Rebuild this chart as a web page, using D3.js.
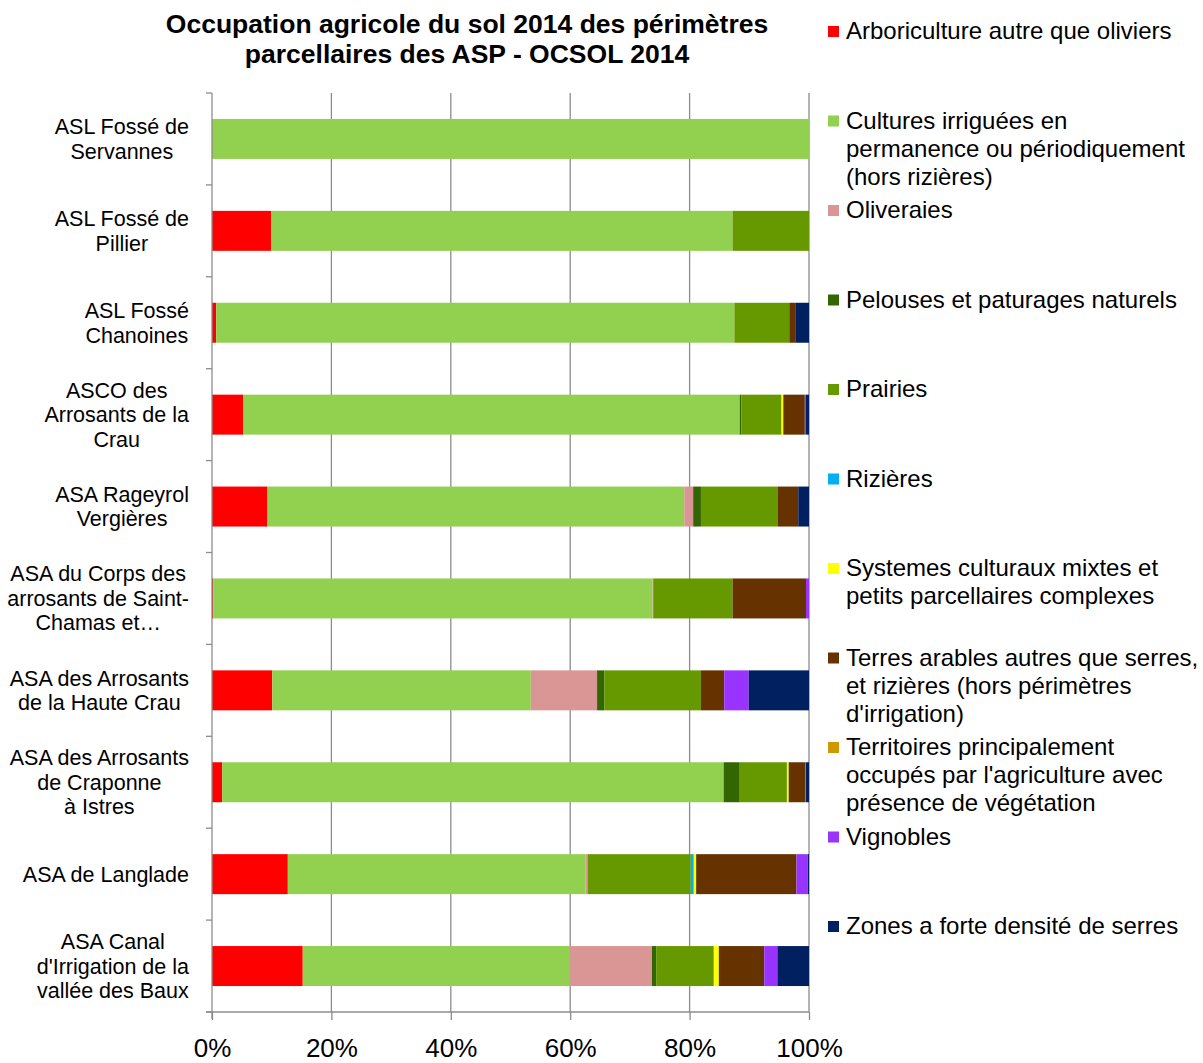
<!DOCTYPE html>
<html><head><meta charset="utf-8">
<script src="https://cdn.jsdelivr.net/npm/d3@7"></script>
<style>body{margin:0;background:#fff}svg{display:block}text{font-family:"Liberation Sans",Arial,sans-serif;fill:#000}</style>
</head><body><svg id="c" width="1203" height="1063"></svg>
<script>
const categories = [
  ["ASL Fossé de","Servannes"],
  ["ASL Fossé de","Pillier"],
  ["ASL Fossé","Chanoines"],
  ["ASCO des","Arrosants de la","Crau"],
  ["ASA Rageyrol","Vergières"],
  ["ASA du Corps des","arrosants de Saint-","Chamas et…"],
  ["ASA des Arrosants","de la Haute Crau"],
  ["ASA des Arrosants","de Craponne","à Istres"],
  ["ASA de Langlade"],
  ["ASA Canal","d'Irrigation de la","vallée des Baux"]
];
const seriesNames = [
  ["Arboriculture autre que oliviers"],
  ["Cultures irriguées en","permanence ou périodiquement","(hors rizières)"],
  ["Oliveraies"],
  ["Pelouses et paturages naturels"],
  ["Prairies"],
  ["Rizières"],
  ["Systemes culturaux mixtes et","petits parcellaires complexes"],
  ["Terres arables autres que serres,","et rizières (hors périmètres","d'irrigation)"],
  ["Territoires principalement","occupés par l'agriculture avec","présence de végétation"],
  ["Vignobles"],
  ["Zones a forte densité de serres"]
];
const colors = ["#FF0000","#92D050","#DA9694","#336600","#669900","#00B0F0","#FFFF00","#663300","#CC9900","#9933FF","#002060"];
// values in % per category (same order as categories)
const arboriculture = [0, 9.9, 0.7, 5.2, 9.3, 0.2, 10.1, 1.7, 12.7, 15.2];
const culturesIrriguees = [100, 77.3, 86.8, 83.2, 69.8, 73.6, 43.3, 84.0, 49.9, 44.8];
const oliveraies = [0, 0, 0, 0, 1.5, 0.1, 11.1, 0, 0.3, 13.7];
const pelouses = [0, 0, 0, 0.3, 1.3, 0, 1.2, 2.7, 0, 0.7];
const prairies = [0, 12.8, 9.2, 6.7, 12.9, 13.3, 16.2, 7.9, 17.3, 9.6];
const rizieres = [0, 0, 0, 0, 0, 0, 0, 0, 0.5, 0.1];
const systemes = [0, 0, 0, 0.3, 0, 0, 0, 0.3, 0.4, 0.8];
const terresArables = [0, 0, 1.1, 3.6, 3.4, 12.3, 3.9, 2.8, 16.8, 7.6];
const territoires = [0, 0, 0, 0, 0, 0, 0, 0, 0, 0];
const vignobles = [0, 0, 0, 0.2, 0, 0.5, 4.1, 0.1, 1.9, 2.2];
const zonesSerres = [0, 0, 2.2, 0.5, 1.8, 0, 10.1, 0.5, 0.2, 5.3];
const xTicks = [0, 0.2, 0.4, 0.6, 0.8, 1.0];

const seriesValues = [arboriculture, culturesIrriguees, oliveraies, pelouses, prairies, rizieres, systemes, terresArables, territoires, vignobles, zonesSerres];
const keys = seriesNames.map((d,i)=>"s"+i);
const table = categories.map((c,ci)=>{
  const row = {cat: ci};
  const total = d3.sum(seriesValues, s=>s[ci]);
  keys.forEach((k,si)=>row[k] = seriesValues[si][ci]/total);
  return row;
});
const stacked = d3.stack().keys(keys)(table);

const svg = d3.select("#c");
const L = 212, R = 809, T = 93, B = 1012;
const x = d3.scaleLinear().domain([0,1]).range([L,R]);
const y = d3.scaleBand().domain(d3.range(categories.length)).range([T,B]).paddingInner(0.565).paddingOuter(0.2825);

// grid
svg.append("g").selectAll("line").data(xTicks.slice(1)).join("line")
  .attr("x1",d=>x(d)).attr("x2",d=>x(d)).attr("y1",T).attr("y2",B)
  .attr("stroke","#8c8c8c").attr("stroke-width",1.3);

// bars
svg.append("g").selectAll("g").data(stacked).join("g")
  .attr("fill",(d,i)=>colors[i])
  .selectAll("rect").data(d=>d).join("rect")
  .attr("x",d=>x(d[0])).attr("width",d=>Math.max(0,x(d[1])-x(d[0])))
  .attr("y",d=>y(d.data.cat)).attr("height",y.bandwidth());

// y axis line & ticks
const yb = d3.scaleLinear().domain([0,categories.length]).range([T,B]);
svg.append("line").attr("x1",L).attr("x2",L).attr("y1",T).attr("y2",B+7).attr("stroke","#8c8c8c").attr("stroke-width",1.3);
svg.append("g").selectAll("line").data(d3.range(categories.length+1)).join("line")
  .attr("x1",L-6).attr("x2",L).attr("y1",d=>yb(d)).attr("y2",d=>yb(d))
  .attr("stroke","#8c8c8c").attr("stroke-width",1.3);
// x axis
const xAxis = d3.axisBottom(x).tickValues(xTicks).tickFormat(d3.format(".0%")).tickSize(8).tickPadding(19);
const gx = svg.append("g").attr("transform",`translate(0,${B})`).call(xAxis);
gx.select(".domain").attr("stroke","#8c8c8c").attr("stroke-width",1.3).attr("d",`M${L-6},0H${R}`);
gx.selectAll(".tick line").attr("stroke","#8c8c8c").attr("stroke-width",1.3);
gx.selectAll(".tick text").attr("font-size",26).attr("font-family","Liberation Sans, Arial, sans-serif").attr("fill","#000");

// y labels
const lh = 24.5;
categories.forEach((lines,ci)=>{
  const cy = y(ci)+y.bandwidth()/2;
  const g = svg.append("g");
  const t = g.append("text").attr("font-size",21.5).attr("text-anchor","middle");
  lines.forEach((ln,li)=>{
    t.append("tspan").attr("x",0).attr("y",cy + (li-(lines.length-1)/2)*lh).attr("dy","0.35em").text(ln);
  });
  const w = t.node().getBBox().width;
  t.attr("transform",`translate(${189 - w/2},0)`);
});

// title
svg.append("text").attr("x",467).attr("y",33).attr("text-anchor","middle").attr("font-size",26.5).attr("font-weight","bold").text("Occupation agricole du sol 2014 des périmètres");
svg.append("text").attr("x",467).attr("y",63).attr("text-anchor","middle").attr("font-size",26.5).attr("font-weight","bold").text("parcellaires des ASP - OCSOL 2014");

// legend
const lg = svg.append("g");
seriesNames.forEach((lines,i)=>{
  const y0 = 31 + i*89.5;
  lg.append("rect").attr("x",828).attr("y",y0-5).attr("width",11).attr("height",11).attr("fill",colors[i]);
  const t = lg.append("text").attr("font-size",24);
  lines.forEach((ln,li)=>t.append("tspan").attr("x",846).attr("y",y0+li*28).attr("dy","0.35em").text(ln));
});
</script></body></html>
